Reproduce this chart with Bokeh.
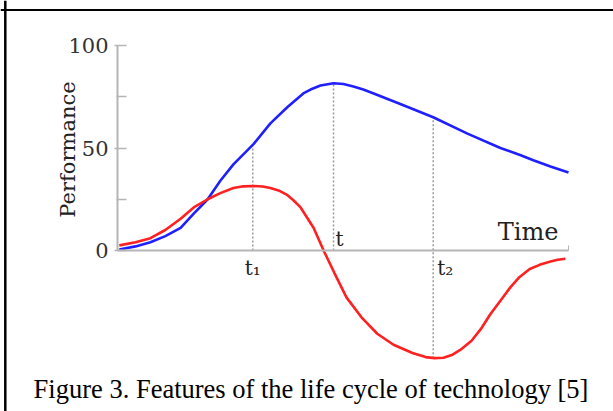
import numpy as np
from bokeh.plotting import figure
from bokeh.models import LinearAxis, FixedTicker, Range1d, Span, Label
from bokeh.core.properties import value
from bokeh.embed import file_html
from bokeh.resources import INLINE

# ---------------- data ----------------
blue_time = [0.04, 0.40, 0.73, 1.06, 1.40, 1.69, 2.00, 2.28, 2.57, 2.84, 3.02, 3.39,
             3.77, 4.12, 4.28, 4.50, 4.79, 5.01, 5.23, 5.45, 5.68, 6.27, 7.00, 7.76,
             8.49, 8.94, 9.22, 9.60, 10.0]
blue_perf = [0.5, 2, 4, 7, 11, 18, 25, 34, 42, 48, 52, 62,
             70, 76.6, 78.5, 80.5, 81.6, 81.2, 80, 78.5, 76.6, 71.5, 65, 57,
             50, 46.5, 44, 41, 38]

red_time = [0.04, 0.40, 0.73, 1.06, 1.40, 1.69, 2.00, 2.28, 2.57, 2.79, 3.02, 3.22,
            3.39, 3.57, 3.77, 3.90, 4.06, 4.35, 4.57, 4.81, 5.08, 5.41, 5.76, 6.12,
            6.54, 6.83, 7.03, 7.23, 7.41, 7.60, 7.85, 8.05, 8.27, 8.49, 8.71, 8.91,
            9.14, 9.36, 9.58, 9.76, 9.93]
red_perf = [2.5, 4, 6, 10, 15.5, 21, 25, 28, 30.5, 31.3, 31.5, 31.2,
            30.5, 29.3, 27, 24.5, 21, 11, 0, -11, -23, -32.6, -40.6, -46,
            -50, -52, -52.5, -52.3, -51, -48.5, -44, -38.5, -31, -24.5, -18, -13,
            -9, -7, -5.5, -4.5, -4]

y_ticks = [0, 50, 100]
y_minor_ticks = [25, 75]
time_end = 10

mark_labels = ["t\u2081", "t", "t\u2082"]
mark_time = [3.0, 4.79, 7.0]
mark_top = [52, 81.6, 65]
mark_bottom = [0, 0, -52.5]

x_title = "Time"
y_title = "Performance"
caption = "Figure 3. Features of the life cycle of technology [5]"

# ---------------- layout ----------------
W, H = 613, 411
PAGE_X0, PAGE_Y0 = 0, 0          # page position of the canvas
ORIGIN_X, ORIGIN_Y = 117, 250     # page pixel of (0, 0)
PX_PER_T, PX_PER_P = 45.1, 2.05


def dx(X):
    return (X - ORIGIN_X) / PX_PER_T


def dy(Y):
    return (ORIGIN_Y - Y) / PX_PER_P


p = figure(width=W, height=H, output_backend="svg", toolbar_location=None,
           x_axis_type=None, y_axis_type=None,
           x_range=Range1d(dx(PAGE_X0), dx(PAGE_X0 + W)),
           y_range=Range1d(dy(PAGE_Y0 + H), dy(PAGE_Y0)),
           min_border=0, outline_line_color=None,
           background_fill_color="white", border_fill_color="white")

serif = "DejaVu Serif"

# y axis
yax = LinearAxis(fixed_location=0, bounds=(0, 100),
                 ticker=FixedTicker(ticks=y_ticks, minor_ticks=y_minor_ticks))
yax.axis_line_color = "#b5b5b5"
yax.axis_line_width = 2
yax.major_tick_line_color = "#b5b5b5"
yax.major_tick_line_width = 1.5
yax.minor_tick_line_color = "#b5b5b5"
yax.minor_tick_line_width = 1.5
yax.major_tick_in = 9
yax.major_tick_out = 3
yax.minor_tick_in = 9
yax.minor_tick_out = 1
yax.major_label_standoff = 6
yax.major_label_text_font = serif
yax.major_label_text_font_size = "21px"
yax.major_label_text_color = "#333333"
p.add_layout(yax, "left")

# x axis
xax = LinearAxis(fixed_location=0, bounds=(0, time_end),
                 ticker=FixedTicker(ticks=[time_end], minor_ticks=[]))
xax.axis_line_color = "#b5b5b5"
xax.axis_line_width = 2
xax.major_tick_line_color = "#b5b5b5"
xax.major_tick_in = 5
xax.major_tick_out = 0
xax.major_label_overrides = {time_end: ""}
xax.major_label_text_font_size = "1px"
p.add_layout(xax, "below")

# dotted guide lines
p.segment(x0=mark_time, y0=mark_bottom, x1=mark_time, y1=mark_top,
          line_color="#9a9a9a", line_width=1.5, line_dash="2 2")

# curves
p.line(blue_time, blue_perf, line_color="#2020ff", line_width=2.6)
p.line(red_time, red_perf, line_color="#ff2020", line_width=2.6)

# mark labels
p.text(x=[mark_time[0]], y=[0], text=[mark_labels[0]], text_font=value(serif),
       text_font_size=value("20px"), text_align="center", text_baseline="alphabetic",
       y_offset=17, text_color="#222222")
p.text(x=[mark_time[1]], y=[0], text=[mark_labels[1]], text_font=value(serif),
       text_font_size=value("20px"), text_align="left", text_baseline="alphabetic",
       x_offset=2, y_offset=-12, text_color="#222222")
p.text(x=[mark_time[2]], y=[0], text=[mark_labels[2]], text_font=value(serif),
       text_font_size=value("20px"), text_align="left", text_baseline="alphabetic",
       x_offset=4, y_offset=17, text_color="#222222")

# axis titles
p.add_layout(Label(x=dx(558), y=dy(231), text=x_title, text_font=serif,
                   text_font_size="24px", text_align="right",
                   text_baseline="alphabetic", text_color="#222222"))
p.add_layout(Label(x=dx(67), y=dy(149), text=y_title, text_font=serif,
                   text_font_size="21px", text_align="center", angle=np.pi / 2,
                   text_baseline="middle", text_color="#222222"))

# caption
p.add_layout(Label(x=dx(310.5), y=dy(388), text=caption, text_font="Liberation Serif",
                   text_font_size="26.5px", text_align="center",
                   text_baseline="alphabetic", text_color="#000000"))

# figure frame (left and top edges visible)
p.add_layout(Span(location=dx(4.8), dimension="height", line_color="black", line_width=2.5))
p.add_layout(Span(location=dy(9.5), dimension="width", line_color="black", line_width=2))

open("out.html", "w").write(file_html(p, INLINE))
